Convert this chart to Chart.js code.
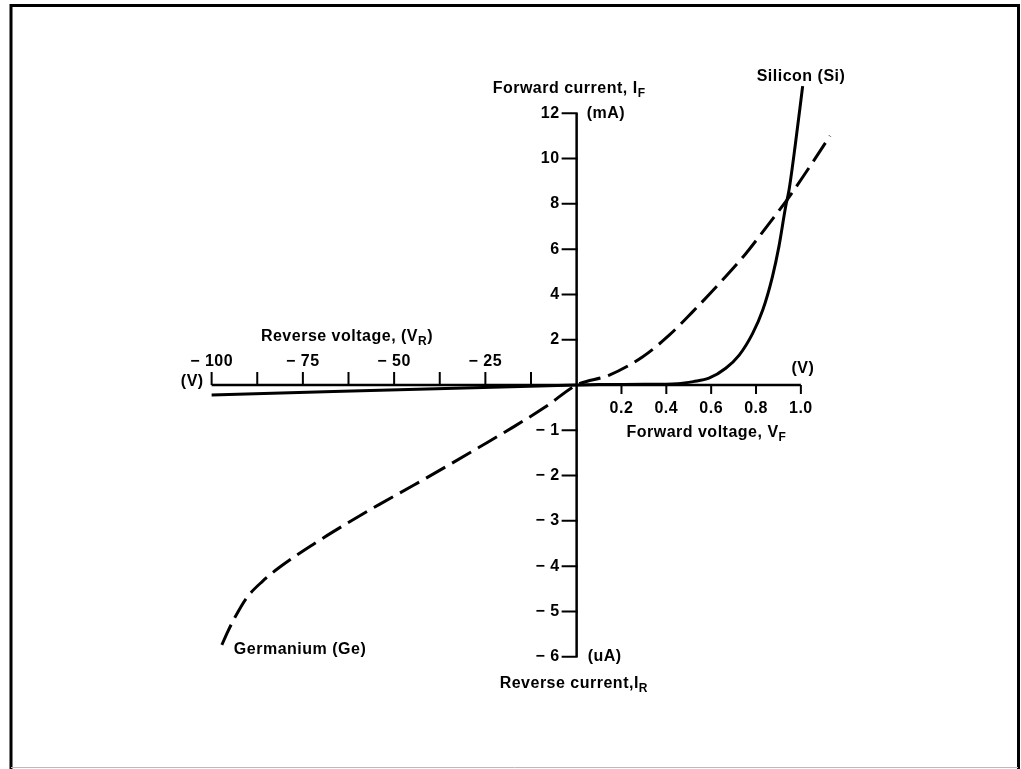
<!DOCTYPE html>
<html><head><meta charset="utf-8">
<script src="https://cdn.jsdelivr.net/npm/chart.js@4.4.0/dist/chart.umd.min.js"></script>
<style>html,body{margin:0;padding:0;background:#fff;overflow:hidden}canvas{display:block}</style>
</head><body>
<canvas id="c" width="1021" height="769" style="width:1021px;height:769px"></canvas>
<script>
// Voltage in V. Current in mA when V >= 0 (forward), in uA when V < 0 (reverse).
const siliconV = [-100, 0, 0.1, 0.3, 0.45, 0.52, 0.59, 0.665, 0.725, 0.785, 0.83, 0.873, 0.902, 0.932, 0.947, 0.975, 1.008];
const siliconI = [-0.22, 0, 0.02, 0.03, 0.06, 0.15, 0.3, 0.74, 1.32, 2.28, 3.31, 4.78, 6.11, 7.87, 8.6, 10.6, 13.2];
const germaniumV = [-97.2, -95.6, -93.6, -90.4, -86, -81.3, -72.2, -63, -53.9, -44.8, -35.7, -26.6, -17.4, -8.3, 0, 0.146, 0.295, 0.414, 0.518, 0.637, 0.755, 0.859, 0.948, 1.04, 1.13];
const germaniumI = [-5.74, -5.45, -5.13, -4.7, -4.33, -4.02, -3.52, -3.06, -2.63, -2.22, -1.8, -1.37, -0.93, -0.47, 0, 0.44, 1.25, 2.21, 3.24, 4.49, 5.81, 7.14, 8.31, 9.65, 11.0];

const fwdVoltTicks = [0.2, 0.4, 0.6, 0.8, 1.0];
const fwdVoltLabels = ['0.2', '0.4', '0.6', '0.8', '1.0'];
const revVoltTicks = [-100, -87.5, -75, -62.5, -50, -37.5, -25, -12.5];
const revVoltLabels = ['\u2212 100', '', '\u2212 75', '', '\u2212 50', '', '\u2212 25', ''];
const fwdCurrentTicks = [2, 4, 6, 8, 10, 12];
const fwdCurrentLabels = ['2', '4', '6', '8', '10', '12'];
const revCurrentTicks = [-1, -2, -3, -4, -5, -6];
const revCurrentLabels = ['\u2212 1', '\u2212 2', '\u2212 3', '\u2212 4', '\u2212 5', '\u2212 6'];

// piecewise axis: forward 0.2 V per division, reverse 12.5 V per division
const FWD_V_DIV = 0.2, REV_V_DIV = 12.5, FWD_STRETCH = 0.983;
const FWD_I_DIV = 2, REV_I_DIV = 1;
const toX = v => v >= 0 ? v / FWD_V_DIV * FWD_STRETCH : v / REV_V_DIV;
const toY = i => i >= 0 ? i / FWD_I_DIV : i / REV_I_DIV;
const pts = (vs, is) => vs.map((v, k) => ({x: toX(v), y: toY(is[k])}));

const FONT = 'bold 16px "Liberation Sans", Arial, sans-serif';
const SUBFONT = 'bold 12px "Liberation Sans", Arial, sans-serif';

function txt(ctx, s, x, y, align, sub, tail) {
  ctx.font = FONT;
  ctx.letterSpacing = '0.5px';
  const w1 = ctx.measureText(s).width;
  let w2 = 0, w3 = 0;
  if (sub) { ctx.font = SUBFONT; w2 = ctx.measureText(sub).width; ctx.font = FONT; }
  if (tail) w3 = ctx.measureText(tail).width;
  const total = w1 + w2 + w3;
  let x0 = x;
  if (align === 'center') x0 = x - total / 2;
  else if (align === 'right') x0 = x - total;
  ctx.textAlign = 'left';
  ctx.textBaseline = 'middle';
  ctx.fillStyle = '#000';
  ctx.fillText(s, x0, y);
  if (sub) { ctx.font = SUBFONT; ctx.fillText(sub, x0 + w1, y + 5); ctx.font = FONT; }
  if (tail) ctx.fillText(tail, x0 + w1 + w2, y);
}

const axesPlugin = {
  id: 'centerAxes',
  beforeDraw(chart) {
    const ctx = chart.ctx;
    ctx.save();
    ctx.fillStyle = '#fff';
    ctx.fillRect(0, 0, chart.width, chart.height);
    ctx.strokeStyle = '#000';
    ctx.lineWidth = 3;
    ctx.beginPath();
    ctx.moveTo(11, 769); ctx.lineTo(11, 5.5); ctx.lineTo(1018.5, 5.5); ctx.lineTo(1018.5, 769);
    ctx.stroke();
    ctx.strokeStyle = '#bbb'; ctx.lineWidth = 1;
    ctx.beginPath(); ctx.moveTo(11, 767.5); ctx.lineTo(1018, 767.5); ctx.stroke();
    ctx.restore();
  },
  beforeDatasetsDraw(chart) {
    const ctx = chart.ctx, xs = chart.scales.x, ys = chart.scales.y;
    const X = v => xs.getPixelForValue(toX(v));
    const Y = i => ys.getPixelForValue(toY(i));
    const ox = X(0), oy = Y(0);
    ctx.save();
    ctx.strokeStyle = '#000';
    ctx.lineWidth = 2.5;
    ctx.lineCap = 'butt';
    ctx.beginPath();
    ctx.moveTo(X(revVoltTicks[0]), oy); ctx.lineTo(X(fwdVoltTicks[fwdVoltTicks.length - 1]), oy);
    ctx.moveTo(ox, Y(fwdCurrentTicks[fwdCurrentTicks.length - 1])); ctx.lineTo(ox, Y(revCurrentTicks[revCurrentTicks.length - 1]));
    ctx.stroke();
    ctx.lineWidth = 2;
    ctx.beginPath();
    revVoltTicks.forEach(v => { ctx.moveTo(X(v), oy); ctx.lineTo(X(v), oy - 13); });
    fwdVoltTicks.forEach(v => { ctx.moveTo(X(v), oy); ctx.lineTo(X(v), oy + 9); });
    fwdCurrentTicks.concat(revCurrentTicks).forEach(i => { ctx.moveTo(ox + 1, Y(i)); ctx.lineTo(ox - 15, Y(i)); });
    ctx.stroke();
    ctx.restore();
  },
  afterDraw(chart) {
    const ctx = chart.ctx, xs = chart.scales.x, ys = chart.scales.y;
    const X = v => xs.getPixelForValue(toX(v));
    const Y = i => ys.getPixelForValue(toY(i));
    const ox = X(0), oy = Y(0);
    ctx.save();
    revVoltTicks.forEach((v, k) => { if (revVoltLabels[k]) txt(ctx, revVoltLabels[k], X(v), oy - 23, 'center'); });
    fwdVoltTicks.forEach((v, k) => txt(ctx, fwdVoltLabels[k], X(v), oy + 24, 'center'));
    fwdCurrentTicks.forEach((i, k) => txt(ctx, fwdCurrentLabels[k], ox - 17, Y(i), 'right'));
    revCurrentTicks.forEach((i, k) => txt(ctx, revCurrentLabels[k], ox - 17, Y(i), 'right'));
    const top = Y(fwdCurrentTicks[fwdCurrentTicks.length - 1]);
    const bot = Y(revCurrentTicks[revCurrentTicks.length - 1]);
    txt(ctx, 'Forward current, I', ox - 84, top - 25, 'left', 'F');
    txt(ctx, '(mA)', ox + 10, top, 'left');
    txt(ctx, '(uA)', ox + 11, bot, 'left');
    txt(ctx, 'Reverse current,I', ox - 77, bot + 27, 'left', 'R');
    txt(ctx, 'Reverse voltage, (V', X(-86.5), oy - 48, 'left', 'R', ')');
    txt(ctx, '(V)', X(-100) - 8, oy - 3, 'right');
    txt(ctx, '(V)', X(1.0) + 2, oy - 16, 'center');
    txt(ctx, 'Forward voltage, V', X(0.222), oy + 48, 'left', 'F');
    txt(ctx, 'Silicon (Si)', X(siliconV[siliconV.length - 1]) - 46, Y(siliconI[siliconI.length - 1]) - 10, 'left');
    txt(ctx, 'Germanium (Ge)', X(germaniumV[0]) + 12, Y(germaniumI[0]) + 5, 'left');
    ctx.restore();
  }
};

new Chart(document.getElementById('c'), {
  type: 'scatter',
  data: {
    datasets: [
      {label: 'Silicon (Si)', data: pts(siliconV, siliconI), showLine: true, borderColor: '#000', borderWidth: 3,
       pointRadius: 0, cubicInterpolationMode: 'monotone', fill: false},
      {label: 'Germanium (Ge)', data: pts(germaniumV, germaniumI), showLine: true, borderColor: '#000', borderWidth: 3,
       borderDash: [22, 8], pointRadius: 0, cubicInterpolationMode: 'monotone', fill: false}
    ]
  },
  options: {
    responsive: false,
    animation: false,
    events: [],
    layout: {padding: {left: 166, right: 125, top: 68, bottom: 67}},
    scales: {
      x: {type: 'linear', min: -9, max: 7, display: false},
      y: {type: 'linear', min: -7, max: 7, display: false}
    },
    plugins: {legend: {display: false}, tooltip: {enabled: false}, title: {display: false}}
  },
  plugins: [axesPlugin]
});
</script>
</body></html>
